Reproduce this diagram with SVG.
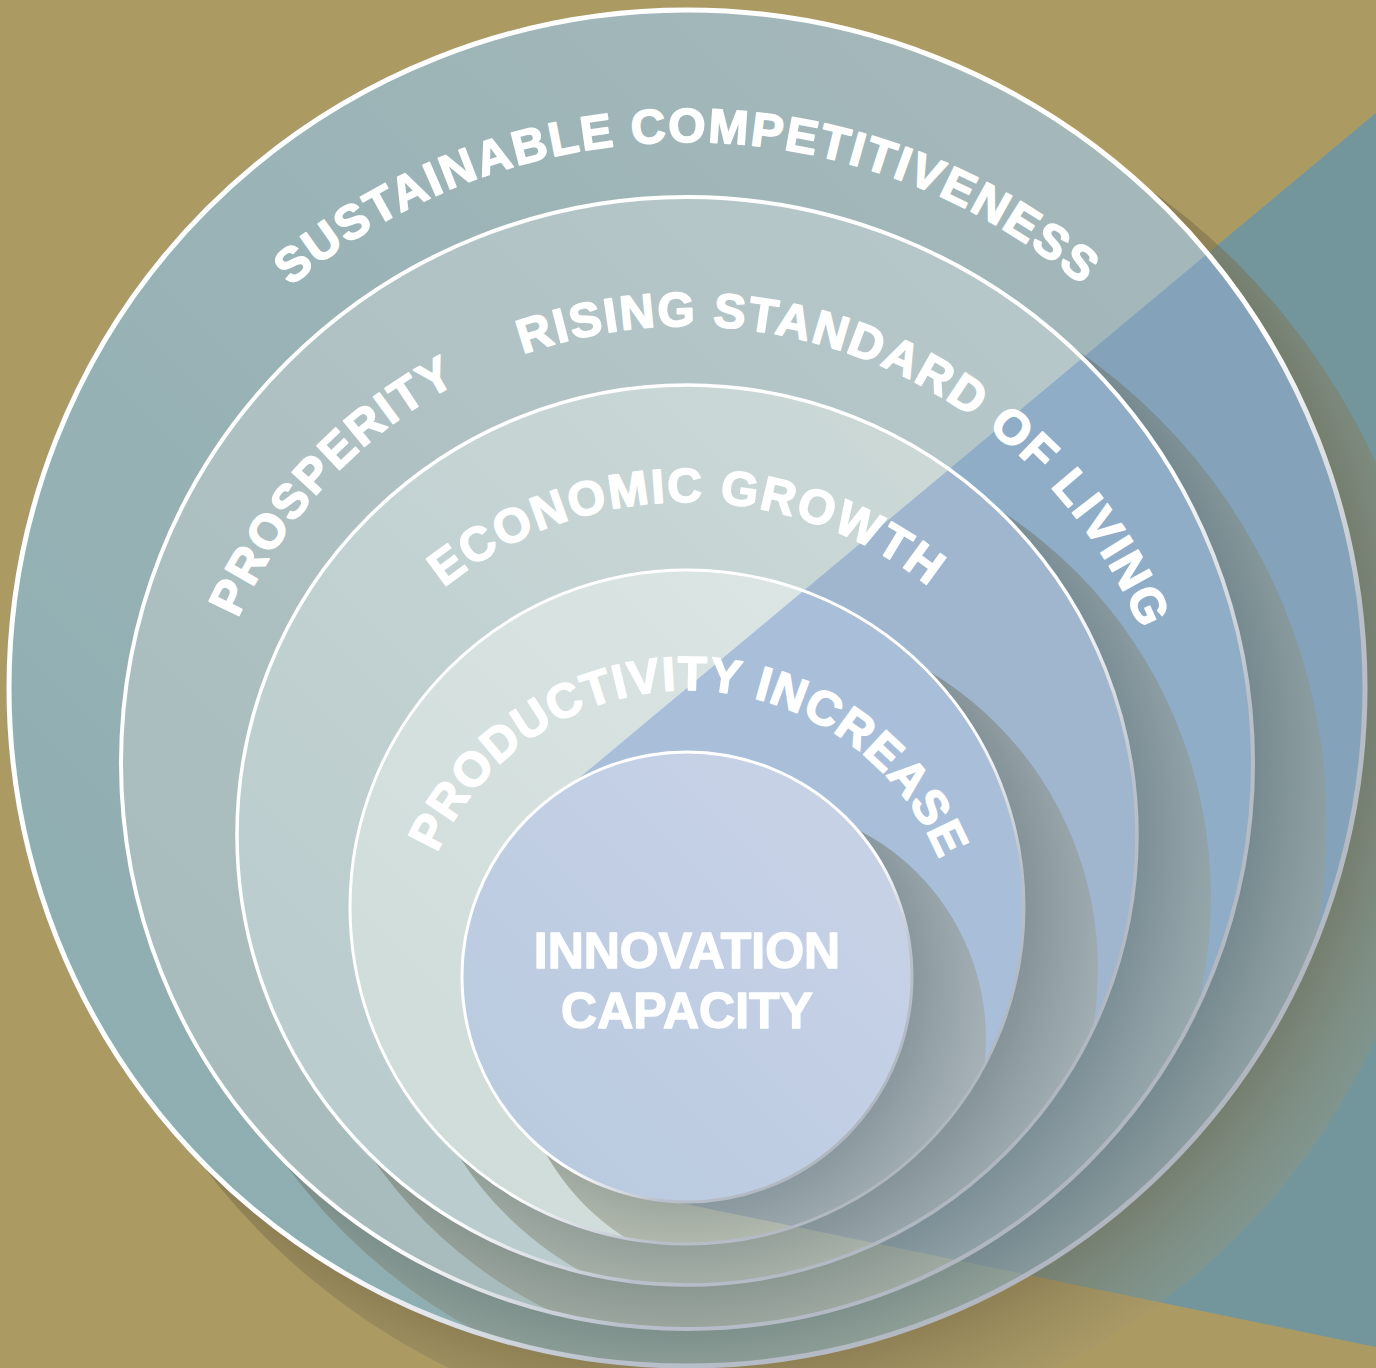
<svg xmlns="http://www.w3.org/2000/svg" width="1376" height="1368" viewBox="0 0 1376 1368">
<defs>
<style>
.lbl{font-family:"Liberation Sans",Arial,sans-serif;font-weight:700;fill:#ffffff;stroke:#ffffff;stroke-linejoin:round;}
.arc{font-size:48px;stroke-width:1.6px;}
.core{font-size:50px;stroke-width:1.4px;}
.rim{fill:none;stroke:url(#rimG);}
.beamOut{fill:#73959C;}
</style>
<linearGradient id="g1" x1="1" y1="0" x2="0" y2="1"><stop offset="0" stop-color="#A9BABC"/><stop offset="1" stop-color="#8AACB0"/></linearGradient>
<linearGradient id="g2" x1="1" y1="0" x2="0" y2="1"><stop offset="0" stop-color="#BACACC"/><stop offset="1" stop-color="#A4B8BA"/></linearGradient>
<linearGradient id="g3" x1="1" y1="0" x2="0" y2="1"><stop offset="0" stop-color="#CFDBD8"/><stop offset="1" stop-color="#B6C9CC"/></linearGradient>
<linearGradient id="g4" x1="1" y1="0" x2="0" y2="1"><stop offset="0" stop-color="#DEE8E7"/><stop offset="1" stop-color="#CDDAD6"/></linearGradient>
<linearGradient id="g5" x1="1" y1="0" x2="0" y2="1"><stop offset="0" stop-color="#CAD3E8"/><stop offset="1" stop-color="#B7C9DE"/></linearGradient>
<linearGradient id="rimG" x1="0" y1="0" x2="1" y2="1"><stop offset="0" stop-color="#FFFFFF"/><stop offset="0.58" stop-color="#FFFFFF"/><stop offset="0.72" stop-color="#B9C0CB"/><stop offset="1" stop-color="#A6ACB4"/></linearGradient>
<radialGradient id="sh1" gradientUnits="userSpaceOnUse" cx="687" cy="688" r="778"><stop offset="0.871" stop-color="rgb(118,106,72)" stop-opacity="0.55"/><stop offset="1" stop-color="rgb(160,150,110)" stop-opacity="0.28"/></radialGradient>
<radialGradient id="sh2" gradientUnits="userSpaceOnUse" cx="687" cy="763" r="666"><stop offset="0.85" stop-color="rgb(104,110,96)" stop-opacity="0.48"/><stop offset="1" stop-color="rgb(172,168,138)" stop-opacity="0.38"/></radialGradient>
<radialGradient id="sh3" gradientUnits="userSpaceOnUse" cx="687" cy="835" r="550"><stop offset="0.818" stop-color="rgb(104,110,96)" stop-opacity="0.48"/><stop offset="1" stop-color="rgb(172,168,138)" stop-opacity="0.38"/></radialGradient>
<radialGradient id="sh4" gradientUnits="userSpaceOnUse" cx="687" cy="907" r="437"><stop offset="0.771" stop-color="rgb(104,110,96)" stop-opacity="0.48"/><stop offset="1" stop-color="rgb(172,168,138)" stop-opacity="0.38"/></radialGradient>
<radialGradient id="sh5" gradientUnits="userSpaceOnUse" cx="687" cy="977" r="325"><stop offset="0.693" stop-color="rgb(104,110,96)" stop-opacity="0.48"/><stop offset="1" stop-color="rgb(172,168,138)" stop-opacity="0.38"/></radialGradient>
<clipPath id="c1"><circle cx="687" cy="688" r="678"/></clipPath>
<clipPath id="c2"><circle cx="687" cy="763" r="566"/></clipPath>
<clipPath id="c3"><circle cx="687" cy="835" r="450"/></clipPath>
<clipPath id="c4"><circle cx="687" cy="907" r="337"/></clipPath>
<polygon id="beam" points="1376,113 560,794 687,977 642,1195 1376,1347"/>
<path id="p1" d="M687,1372 A615,615 0 1,1 687,142 A615,615 0 1,1 687,1372"/>
<path id="p2" d="M687,1308 A491,491 0 1,1 687,326 A491,491 0 1,1 687,1308"/>
<path id="p3" d="M687,1278 A388,388 0 1,1 687,502 A388,388 0 1,1 687,1278"/>
<path id="p4" d="M687,1236 A273,273 0 1,1 687,690 A273,273 0 1,1 687,1236"/>
</defs>

<rect x="0" y="0" width="1376" height="1368" fill="#AC9A63"/>
<use href="#beam" class="beamOut"/>

<g id="ring-sustainable-competitiveness">
<circle cx="751" cy="750" r="688" fill="url(#sh1)"/>
<circle cx="687" cy="688" r="678" fill="url(#g1)"/>
<use href="#beam" fill="#84A3BA" clip-path="url(#c1)"/>
<circle cx="751" cy="825" r="576" fill="url(#sh2)" clip-path="url(#c1)"/>
<circle class="rim" cx="687" cy="688" r="678" stroke-width="5"/>
<text class="lbl arc" letter-spacing="2"><textPath href="#p1" startOffset="50%" text-anchor="middle">SUSTAINABLE COMPETITIVENESS</textPath></text>
</g>

<g id="ring-prosperity">
<circle cx="687" cy="763" r="566" fill="url(#g2)"/>
<use href="#beam" fill="#8FADC7" clip-path="url(#c2)"/>
<circle cx="751" cy="897" r="460" fill="url(#sh3)" clip-path="url(#c2)"/>
<circle class="rim" cx="687" cy="763" r="566" stroke-width="4"/>
<text class="lbl arc" letter-spacing="2"><textPath href="#p2" startOffset="1140" text-anchor="middle">PROSPERITY</textPath></text>
<text class="lbl arc" letter-spacing="2"><textPath href="#p2" startOffset="1749" text-anchor="middle">RISING STANDARD OF LIVING</textPath></text>
</g>

<g id="ring-economic-growth">
<circle cx="687" cy="835" r="450" fill="url(#g3)"/>
<use href="#beam" fill="#A0B6CF" clip-path="url(#c3)"/>
<circle cx="751" cy="969" r="347" fill="url(#sh4)" clip-path="url(#c3)"/>
<circle class="rim" cx="687" cy="835" r="450" stroke-width="3.5"/>
<text class="lbl arc" letter-spacing="2"><textPath href="#p3" startOffset="50%" text-anchor="middle">ECONOMIC GROWTH</textPath></text>
</g>

<g id="ring-productivity-increase">
<circle cx="687" cy="907" r="337" fill="url(#g4)"/>
<use href="#beam" fill="#A9BED8" clip-path="url(#c4)"/>
<circle cx="751" cy="1039" r="235" fill="url(#sh5)" clip-path="url(#c4)"/>
<circle class="rim" cx="687" cy="907" r="337" stroke-width="3"/>
<text class="lbl arc" letter-spacing="1"><textPath href="#p4" startOffset="861" text-anchor="middle">PRODUCTIVITY INCREASE</textPath></text>
</g>

<g id="core-innovation-capacity">
<circle cx="687" cy="977" r="225" fill="url(#g5)"/>
<circle class="rim" cx="687" cy="977" r="225" stroke-width="3"/>
<text class="lbl core" x="687" y="968" text-anchor="middle">INNOVATION</text>
<text class="lbl core" x="687" y="1028" text-anchor="middle">CAPACITY</text>
</g>
</svg>
